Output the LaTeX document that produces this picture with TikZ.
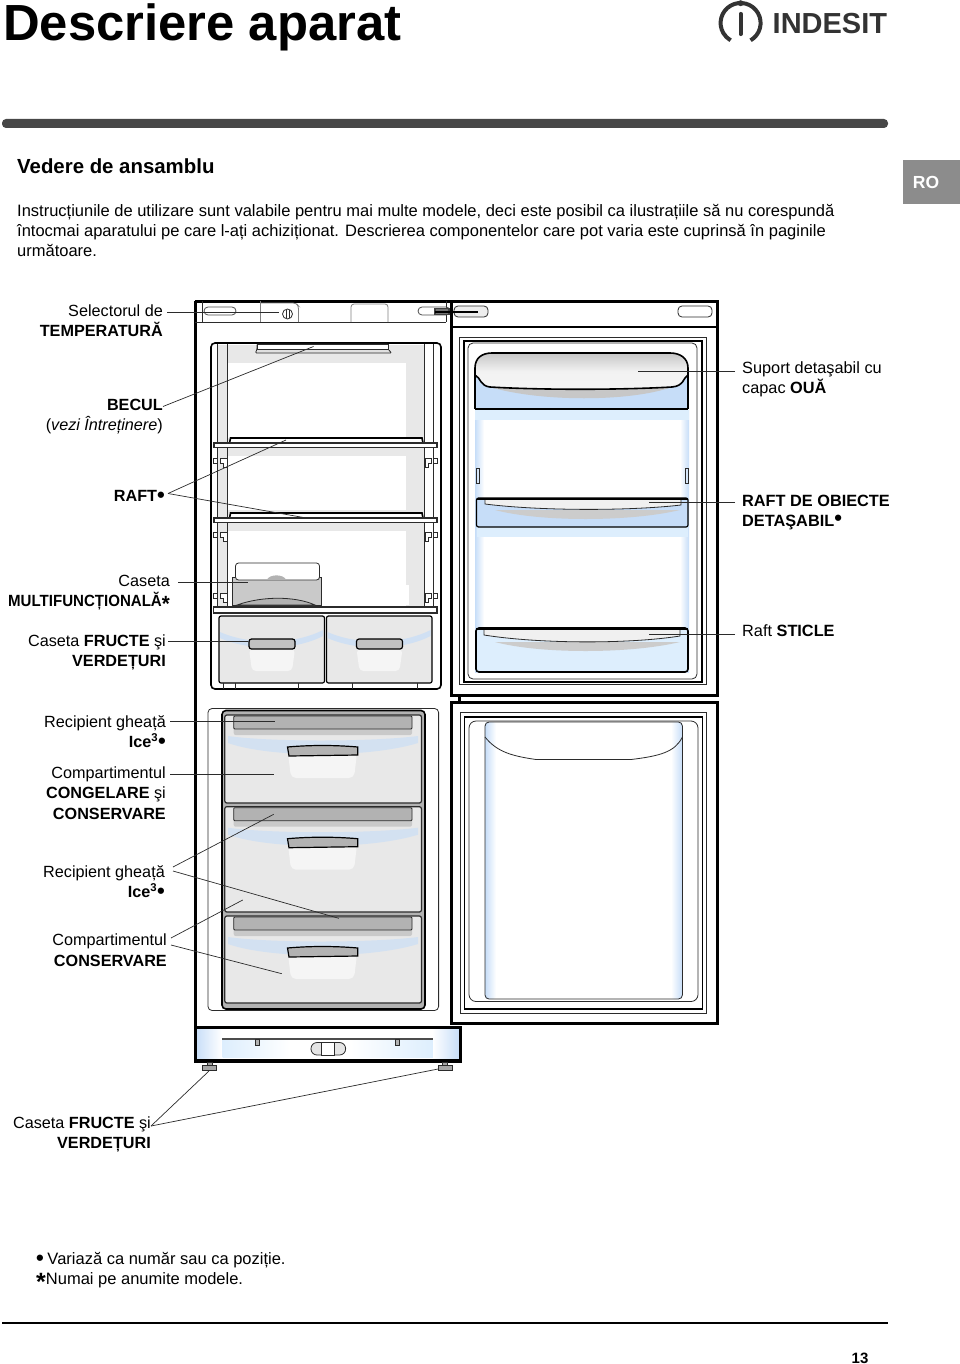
\documentclass[tikz,border=0pt]{standalone}
\usepackage{fontspec}
\setmainfont{Liberation Sans}
\definecolor{inkGrey}{HTML}{2B2B2B}
\definecolor{wallGrey}{HTML}{E8E8E8}
\definecolor{barGrey}{HTML}{B2B2B2}
\definecolor{iceBlue}{HTML}{C6DDF8}
\definecolor{paleBlue}{HTML}{DDEEFD}
\definecolor{tabGrey}{HTML}{8C8C8C}
\newcommand{\bigmark}[1]{{\fontsize{22}{20}\selectfont\textbf{#1}}}
\tikzset{
  lbl/.style={font=\fontsize{16.2}{20.4}\selectfont,align=right,inner sep=0pt,anchor=north east},
  lblr/.style={font=\fontsize{16.3}{20.4}\selectfont,align=left,inner sep=0pt,anchor=north west},
  leader/.style={draw=inkGrey,line width=0.7pt},
  body/.style={draw=black,line width=3pt},
  thinline/.style={draw=inkGrey,line width=0.8pt},
  midline/.style={draw=black,line width=1.6pt},
}
\begin{document}
\begin{tikzpicture}[x=1pt,y=-1pt]
\useasboundingbox (0,0) rectangle (960,1364);

% Page head
\node[font=\fontsize{50.8}{52}\selectfont\bfseries,inner sep=0pt,anchor=base west] (pageTitle) at (3,41) {Descriere aparat};
\fill[black!72,rounded corners=4pt] (2,119) rectangle (888,128);
\fill[tabGrey] (903,160) rectangle (960,204);
\node[font=\fontsize{17.5}{20}\selectfont\bfseries,text=white,inner sep=0pt] (langTab) at (926,182.5) {RO};

% Logo
\def\logoX{740.6}
\def\logoY{23}
\draw[black!80,line width=4pt] (\logoX,\logoY) ++(60:20) arc (60:-240:20);
\draw[black!80,line width=4.2pt,line cap=round] (\logoX,14) -- (\logoX,34);
\fill[black!80] (\logoX,3.2) circle (3);
\node[font=\fontsize{29}{30}\selectfont\bfseries,text=black!80,inner sep=0pt,anchor=base west] (logoWord) at (772.5,34) {INDESIT};

% Intro text
\node[font=\fontsize{20.4}{24}\selectfont\bfseries,inner sep=0pt,anchor=base west] (sectionHead) at (17,174) {Vedere de ansamblu};
\node[font=\fontsize{16.5}{20}\selectfont,align=left,inner sep=0pt,anchor=north west] (introText) at (17,204)
{Instrucțiunile de utilizare sunt valabile pentru mai multe modele, deci este posibil ca ilustrațiile să nu corespundă\\
întocmai aparatului pe care l-ați achiziționat. Descrierea componentelor care pot varia este cuprinsă în paginile\\
următoare.};

% Cabinet, left wall and top panel
\draw[body] (195,301) -- (195,1060);
\draw[body] (195,301) -- (451,301);
\draw[thinline] (195,322) -- (446,322) (202,301) -- (202,322) (446,301) -- (446,322);
\draw[thinline,black!50] (260,301) -- (260,322);
\draw[thinline,black!50,rounded corners=3pt] (260,303) -- (296,303) -- (298.5,306) -- (298.5,322);
\draw[thinline,black!50,rounded corners=3pt] (351,322) -- (351,304) -- (388,304) -- (388,322);
\draw[thinline,black!70,rounded corners=4pt] (204,307) rectangle (236,315);
\draw[thinline,black!70,rounded corners=4pt] (418,307) rectangle (450,315);
\draw[thinline] (287.5,314) circle (5);
\draw[thinline] (286,310) -- (286,318) (289,310) -- (289,318);

% Fridge interior
\draw[midline,fill=white,rounded corners=4pt] (211,343) rectangle (441,689);
\fill[wallGrey] (218,345) rectangle (424,607);
\fill[white] (227,363) rectangle (406,438);
\fill[white] (227,456) rectangle (406,510);
\fill[white] (227,531) rectangle (406,607);
\fill[white] (406,585) rectangle (409,605);
\draw[thinline] (217.5,344) -- (217.5,607) (227,344) -- (227,607);
\draw[thinline] (424,344) -- (424,607) (433,344) -- (433,607);

% Lamp cover
\fill[white] (257,344) rectangle (388,349);
\draw[thinline,fill=black!12,rounded corners=1pt] (255.5,353) -- (257,349) -- (257,344) -- (388,344) -- (388,349) -- (391.5,353) -- cycle;
\draw[thinline,fill=white] (257,344) rectangle (388,349);

% Shelves
\foreach \shelfY in {443,518} {
  \draw[midline,fill=white] (229.6,\shelfY) -- (230.5,\shelfY-5) -- (422,\shelfY-5) -- (423,\shelfY);
  \draw[thinline,fill=white,line width=1.2pt] (214,\shelfY) rectangle (437,\shelfY+4.5);
}
\draw[thinline,fill=white,line width=1.2pt] (213.5,607) rectangle (437,613);

% Shelf clips
\foreach \clipY in {458,532,593} {
  \draw[thinline,fill=white] (213.5,\clipY) rectangle (217.5,\clipY+5);
  \draw[thinline,fill=white] (220,\clipY) -- (227,\clipY) -- (227,\clipY+9) -- (223,\clipY+9) -- (223,\clipY+5) -- (220,\clipY+5) -- cycle;
  \draw[thinline,fill=white] (433,\clipY) rectangle (437,\clipY+5);
  \draw[thinline,fill=white] (431,\clipY) -- (425,\clipY) -- (425,\clipY+9) -- (428,\clipY+9) -- (428,\clipY+5) -- (431,\clipY+5) -- cycle;
}

% Multifunction box
\draw[thinline,fill=barGrey!70] (232,605) -- (232,577) -- (321.5,577) -- (321.5,605) -- cycle;
\draw[thinline,fill=white,rounded corners=3pt] (235.5,580) -- (235.5,563) -- (319.5,563) -- (319.5,580) -- cycle;
\fill[barGrey] (267,579.5) .. controls (270,574) and (283,574) .. (286,579.5) -- cycle;
\draw[thinline,fill=barGrey] (237,605) .. controls (262,596) and (295,596) .. (315,605) -- cycle;

% Fruit drawers
\foreach \drawerX in {219,326.5} {
  \draw[midline,line width=1.2pt,fill=wallGrey,rounded corners=2pt] (\drawerX,616) rectangle (\drawerX+105.5,683);
  \fill[iceBlue,opacity=.7] (\drawerX+1,632) .. controls (\drawerX+30,645) and (\drawerX+75,645) .. (\drawerX+104,630) -- (\drawerX+104,636) .. controls (\drawerX+75,651) and (\drawerX+30,651) .. (\drawerX+1,638) -- cycle;
  \fill[white!96!black,rounded corners=4pt] (\drawerX+30,649) -- (\drawerX+33,671) -- (\drawerX+73,671) -- (\drawerX+76,649) -- cycle;
  \draw[midline,line width=1.2pt,fill=barGrey!80,rounded corners=2.5pt] (\drawerX+30,639) rectangle (\drawerX+76,649);
}
\draw[thinline] (223,683) -- (223,689) (235,683) -- (235,689) (298.5,683) -- (298.5,689) (352.5,683) -- (352.5,689) (417,683) -- (417,689);

% Upper door
\draw[body,fill=white] (451,301) rectangle (717,695);
\draw[midline] (451,327) -- (717,327);
\draw[thinline] (459,337) rectangle (706.5,684);
\draw[midline] (464,341) rectangle (702,682);
\draw[thinline,rounded corners=5pt] (468,343) rectangle (697,679);
\draw[thinline,fill=black!7,rounded corners=4pt] (454,317) -- (454,306) -- (488,306) -- (488,317) -- cycle;
\draw[thinline,rounded corners=4pt] (678,317) -- (678,306) -- (712,306) -- (712,317) -- cycle;

% Door lining with blue edges
\shade[left color=iceBlue,right color=white] (475,410) rectangle (484,672);
\shade[left color=white,right color=iceBlue] (680,410) rectangle (689,672);
\fill[paleBlue] (475,410) rectangle (689,420);
\fill[paleBlue] (477,527) rectangle (688,537);
\draw[thinline] (476,468) rectangle (479,483) (685.5,468) rectangle (688.7,483);

% Egg rack
\fill[iceBlue] (475,375) rectangle (688,409);
\draw[midline] (475,409) -- (475,375) (688,409) -- (688,375);
\fill[black!22] (490,387) .. controls (540,402) and (630,402) .. (672,387) -- cycle;
\draw[midline,top color=black!22,bottom color=black!4,middle color=black!5]
  (475,375) -- (475,368) .. controls (475,358) and (482,353) .. (492,353) -- (670,353) .. controls (680,353) and (688,358) .. (688,368) -- (688,375)
  .. controls (683,378) and (684,386) .. (672,387) .. controls (620,390) and (540,390) .. (490,387) .. controls (480,386) and (481,378) .. (475,375);
\draw[midline,line width=2pt] (475,409) -- (688,409);

% Door shelves
\draw[midline,line width=1.2pt,fill=iceBlue,rounded corners=2pt] (476.5,498) rectangle (688,527);
\fill[black!20] (495,510) .. controls (540,522) and (630,522) .. (680,510) -- cycle;
\draw[thinline,fill=white!94!black] (485,499) -- (485,504) .. controls (540,511) and (630,511) .. (681,505) -- (681,499) -- cycle;
\draw[midline,line width=1.2pt] (476.5,499) -- (688,499);
\draw[midline,fill=paleBlue,rounded corners=3pt] (476,628) rectangle (688,672);
\fill[black!20] (495,642) .. controls (540,654) and (630,654) .. (680,642) -- cycle;
\draw[thinline,fill=white!94!black] (484,629) -- (484,635) .. controls (540,644) and (630,644) .. (680,636) -- (680,629) -- cycle;
\draw[midline,line width=1.2pt] (476,629) -- (688,629);

% Door link
\draw[midline,line width=2.4pt] (459.5,695) -- (459.5,702);

% Freezer
\draw[thinline,rounded corners=4pt] (208,708.5) rectangle (438.6,1010.5);
\draw[draw=black,line width=1.6pt,fill=barGrey,rounded corners=4pt] (222,710.5) rectangle (425,1009);
\foreach \trayY/\trayH in {715/88,806.7/105.3,916/87} {
  \draw[thinline,line width=1.2pt,fill=wallGrey,rounded corners=2pt] (224.8,\trayY) rectangle (421.4,\trayY+\trayH);
  \fill[barGrey!70,rounded corners=2pt] (233.7,\trayY+1) rectangle (412,\trayY+20);
  \draw[thinline,fill=barGrey,rounded corners=1pt] (233.7,\trayY+1) rectangle (412,\trayY+14);
  \fill[iceBlue,opacity=.6] (228,\trayY+21) .. controls (270,\trayY+27) and (370,\trayY+27) .. (418,\trayY+21) -- (418,\trayY+28) .. controls (370,\trayY+43) and (270,\trayY+43) .. (228,\trayY+28) -- cycle;
  \fill[white!96!black,rounded corners=5pt] (288,\trayY+38) -- (291,\trayY+63) -- (354,\trayY+63) -- (357,\trayY+38) -- cycle;
  \draw[midline,line width=1.2pt,fill=barGrey] (287.5,\trayY+32) .. controls (310,\trayY+30) and (335,\trayY+30) .. (357.7,\trayY+32) -- (357.7,\trayY+40) -- (289,\trayY+41) -- cycle;
}

% Lower door
\draw[body,fill=white] (451,702) rectangle (717,1023);
\draw[thinline] (460,712.7) rectangle (706.5,1013);
\draw[midline] (464.5,717) rectangle (702.4,1009);
\draw[thinline,rounded corners=7pt] (469,721) rectangle (698,1001.5);
\shade[left color=iceBlue,right color=white,rounded corners=3pt] (485,722) rectangle (496,999);
\shade[left color=white,right color=iceBlue,rounded corners=3pt] (671,722) rectangle (682.4,999);
\draw[thinline,rounded corners=4pt] (485,722) rectangle (682.4,999);
\draw[thinline] (485,737) .. controls (497,752) and (512,756) .. (536,759.5) -- (631,759.5) .. controls (660,756) and (675,752) .. (682.4,737);

% Base
\shade[left color=iceBlue,right color=white] (195,1027) rectangle (222,1061);
\shade[left color=white,right color=iceBlue] (432,1027) rectangle (460,1061);
\shade[left color=paleBlue,right color=white] (222.7,1039) rectangle (290,1057.5);
\shade[left color=white,right color=paleBlue] (350,1039) rectangle (432.8,1057.5);
\draw[body] (195,1027) rectangle (460,1061);
\draw[body,line width=3.4pt] (195,1061) -- (460,1061);
\draw[draw=black!70,line width=1.2pt] (222,1039) -- (432.8,1039);
\draw[thinline,fill=black!30] (255,1039.5) rectangle (259.5,1045);
\draw[thinline,fill=black!30] (395,1039.5) rectangle (399.5,1045);
\draw[thinline,fill=black!10,rounded corners=6pt] (311,1042.5) rectangle (345.6,1055);
\draw[thinline,fill=white] (321.5,1042.5) rectangle (334.6,1055);

% Feet
\foreach \footX in {209.5,445.3} {
  \draw[thinline,fill=black!35] (\footX-2.5,1062) rectangle (\footX+2.5,1065);
  \draw[thinline,fill=black!35] (\footX-7,1065) rectangle (\footX+7,1070);
}

% Labels left
\node[lbl] (lblSelector) at (163,304.5) {Selectorul de\\\textbf{TEMPERATURĂ}};
\node[lbl] (lblBecul) at (163,399) {\textbf{BECUL}\\(\textit{vezi Întreținere})};
\node[lbl] (lblRaft) at (165,490.5) {\textbf{RAFT}\raisebox{-1pt}{\bigmark{•}}};
\node[lbl] (lblMulti) at (170,575) {Caseta\\\scalebox{0.93}[1]{\textbf{MULTIFUNCȚIONALĂ}\raisebox{-5pt}{\bigmark{*}}}};
\node[lbl] (lblFruit) at (166,634.5) {Caseta \textbf{FRUCTE} şi\\\textbf{VERDEȚURI}};
\node[lbl] (lblIceA) at (166,715) {Recipient gheață\\\textbf{Ice\textsuperscript{3}}\raisebox{-1pt}{\bigmark{•}}};
\node[lbl] (lblFreeze) at (166,766.5) {Compartimentul\\\textbf{CONGELARE} şi\\\textbf{CONSERVARE}};
\node[lbl] (lblIceB) at (165,865) {Recipient gheață\\\textbf{Ice\textsuperscript{3}}\raisebox{-1pt}{\bigmark{•}}};
\node[lbl] (lblStore) at (167,934) {Compartimentul\\\textbf{CONSERVARE}};
\node[lbl] (lblFeet) at (151,1116.5) {Caseta \textbf{FRUCTE} şi\\\textbf{VERDEȚURI}};

% Labels right
\node[lblr] (lblEggs) at (742,361.5) {Suport detaşabil cu\\capac \textbf{OUĂ}};
\node[lblr] (lblDoorShelf) at (742,495) {\textbf{RAFT DE OBIECTE}\\\textbf{DETAŞABIL}\raisebox{1pt}{\bigmark{•}}};
\node[lblr] (lblBottles) at (742,624.5) {Raft \textbf{STICLE}};

% Leader ends
\coordinate (tKnob) at (279,312);
\coordinate (tTabA) at (435,312);
\coordinate (tTabB) at (477.5,312);
\coordinate (tLamp) at (313.5,346.5);
\coordinate (tShelfA) at (286,440);
\coordinate (tShelfB) at (303.5,517.5);
\coordinate (tBox) at (248,582);
\coordinate (tFruit) at (248,641);
\coordinate (tEggs) at (638,371);
\coordinate (tDoorShelf) at (648.5,502);
\coordinate (tBottles) at (648.5,634);
\coordinate (tIceA) at (274.7,721.5);
\coordinate (tFreeze) at (274,774);
\coordinate (tIceB) at (273.7,814.3);
\coordinate (tIceC) at (338.8,918.3);
\coordinate (tStoreA) at (242.7,900);
\coordinate (tStoreB) at (281.8,973.7);
\coordinate (tFootL) at (209,1071);
\coordinate (tFootR) at (438,1069);

% Leaders
\draw[leader] ([xshift=4]lblSelector.east |- tKnob) -- (tKnob);
\draw[draw=black!75,line width=1.4pt,fill=black!55] (tTabA) ++(0,-3.5) rectangle ++(14,6);
\draw[draw=black,line width=1.2pt] (tTabA) -- (tTabB);
\draw[leader] ([yshift=-7.5]lblBecul.north east) -- (tLamp);
\draw[leader] ([xshift=3,yshift=-3]lblRaft.north east) -- (tShelfA);
\draw[leader] ([xshift=3,yshift=-3]lblRaft.north east) -- (tShelfB);
\draw[leader] ([xshift=8]lblMulti.east |- tBox) -- (tBox);
\draw[leader] ([xshift=2]lblFruit.east |- tFruit) -- (tFruit);
\draw[leader] ([xshift=-7]lblEggs.west |- tEggs) -- (tEggs);
\draw[leader] ([xshift=-7]lblDoorShelf.west |- tDoorShelf) -- (tDoorShelf);
\draw[leader] ([xshift=-7]lblBottles.west |- tBottles) -- (tBottles);
\draw[leader] ([xshift=4]lblIceA.east |- tIceA) -- (tIceA);
\draw[leader] ([xshift=4]lblFreeze.east |- tFreeze) -- (tFreeze);
\draw[leader] ([xshift=8,yshift=-2]lblIceB.north east) -- (tIceB);
\draw[leader] ([xshift=8,yshift=-6]lblIceB.north east) -- (tIceC);
\draw[leader] ([xshift=4,yshift=-4]lblStore.north east) -- (tStoreA);
\draw[leader] ([xshift=4,yshift=-11]lblStore.north east) -- (tStoreB);
\draw[leader] ([yshift=-9.5]lblFeet.north east) -- (tFootL);
\draw[leader] ([yshift=-9.5]lblFeet.north east) -- (tFootR);

% Footnotes
\node[font=\fontsize{16.5}{20.4}\selectfont,align=left,inner sep=0pt,anchor=north west] (footNotes) at (36,1252)
{\raisebox{-1pt}{\bigmark{•}}\hspace{-1pt} Variază ca număr sau ca poziție.\\{\fontsize{25}{20}\selectfont\raisebox{-6pt}{\textbf{*}}}Numai pe anumite modele.};
\draw[draw=black,line width=1.2pt] (2,1323) -- (888,1323);
\node[font=\fontsize{15}{18}\selectfont\bfseries,inner sep=0pt,anchor=base] (pageNo) at (860,1363) {13};

\end{tikzpicture}
\end{document}
